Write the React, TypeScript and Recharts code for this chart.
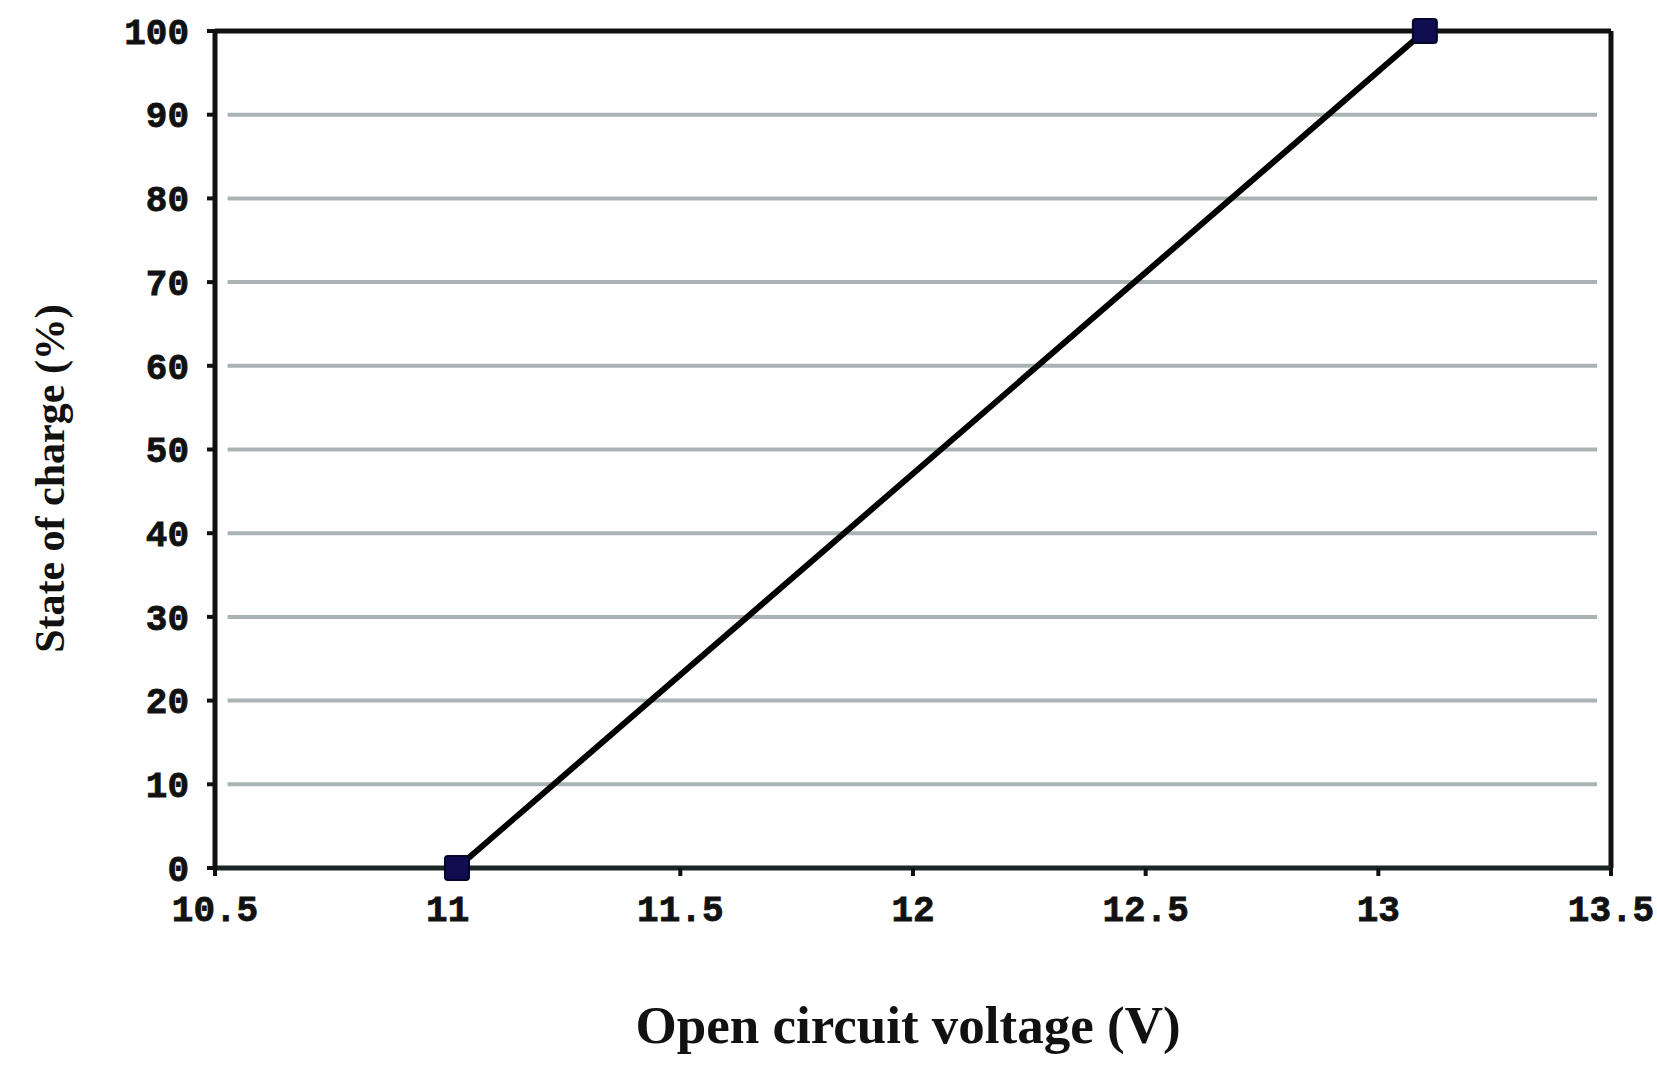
import React from 'react';
import { LineChart, Line, XAxis, YAxis, ReferenceLine, Label } from 'recharts';

const voltage = [11.02, 13.1];
const soc = [0, 100];
const xTicks = [10.5, 11, 11.5, 12, 12.5, 13, 13.5];
const yTicks = [0, 10, 20, 30, 40, 50, 60, 70, 80, 90, 100];
const gridValues = [10, 20, 30, 40, 50, 60, 70, 80, 90];
const gridStart = 10.527;
const gridEnd = 13.47;

const data = voltage.map((v, i) => ({ v, soc: soc[i] }));

const tickFont = {
  fontFamily: 'Liberation Mono',
  fontWeight: 700,
  fontSize: 36,
  fill: '#111',
  stroke: '#111',
  strokeWidth: 0.8,
};

const SquareDot = (props: any) => {
  const { cx, cy } = props;
  if (cx == null || cy == null) return null;
  const s = 24;
  return <rect x={cx - s / 2} y={cy - s / 2} width={s} height={s} rx={3} fill="#0e0e50" stroke="#05052a" strokeWidth={2} />;
};

export default function App() {
  return (
    <div style={{ position: 'absolute', left: 0, top: 0, background: '#fff' }}>
      <LineChart
        width={1657}
        height={1066}
        data={data}
        margin={{ top: 31, right: 46, bottom: 138, left: 115 }}
      >
        {gridValues.map((g) => (
          <ReferenceLine
            key={g}
            segment={[{ x: gridStart, y: g }, { x: gridEnd, y: g }]}
            stroke="#a9b3b3"
            strokeWidth={4}
            ifOverflow="visible"
          />
        ))}
        <ReferenceLine y={100} stroke="#111" strokeWidth={5} />
        <ReferenceLine x={13.5} stroke="#111" strokeWidth={5} />
        <XAxis
          type="number"
          dataKey="v"
          domain={[10.5, 13.5]}
          ticks={xTicks}
          tickFormatter={(t: number) => String(t)}
          height={60}
          axisLine={{ stroke: '#1a2626', strokeWidth: 5 }}
          tickLine={{ stroke: '#111', strokeWidth: 4 }}
          tickSize={8}
          tickMargin={19}
          tick={tickFont}
          interval={0}
        >
          <Label
            content={(p: any) => {
              const vb = p.viewBox || {};
              return (
                <text
                  x={vb.x + vb.width / 2 - 5}
                  y={1043}
                  textAnchor="middle"
                  style={{ fontFamily: 'Liberation Serif', fontWeight: 700, fontSize: 53, fill: '#111' }}
                >
                  Open circuit voltage (V)
                </text>
              );
            }}
          />
        </XAxis>
        <YAxis
          type="number"
          dataKey="soc"
          domain={[0, 100]}
          ticks={yTicks}
          width={100}
          axisLine={{ stroke: '#111', strokeWidth: 5 }}
          tickLine={{ stroke: '#111', strokeWidth: 4 }}
          tickSize={8}
          tickMargin={18}
          tick={tickFont}
          interval={0}
        >
          <Label
            content={(p: any) => {
              const vb = p.viewBox || {};
              const cy = vb.y + vb.height / 2 + 29;
              return (
                <text
                  x={64}
                  y={cy}
                  transform={`rotate(-90, 64, ${cy})`}
                  textAnchor="middle"
                  style={{ fontFamily: 'Liberation Serif', fontWeight: 700, fontSize: 42, fill: '#111' }}
                >
                  State of charge (%)
                </text>
              );
            }}
          />
        </YAxis>
        <Line
          type="linear"
          dataKey="soc"
          stroke="#000"
          strokeWidth={6}
          dot={<SquareDot />}
          activeDot={false}
          isAnimationActive={false}
        />
      </LineChart>
    </div>
  );
}
